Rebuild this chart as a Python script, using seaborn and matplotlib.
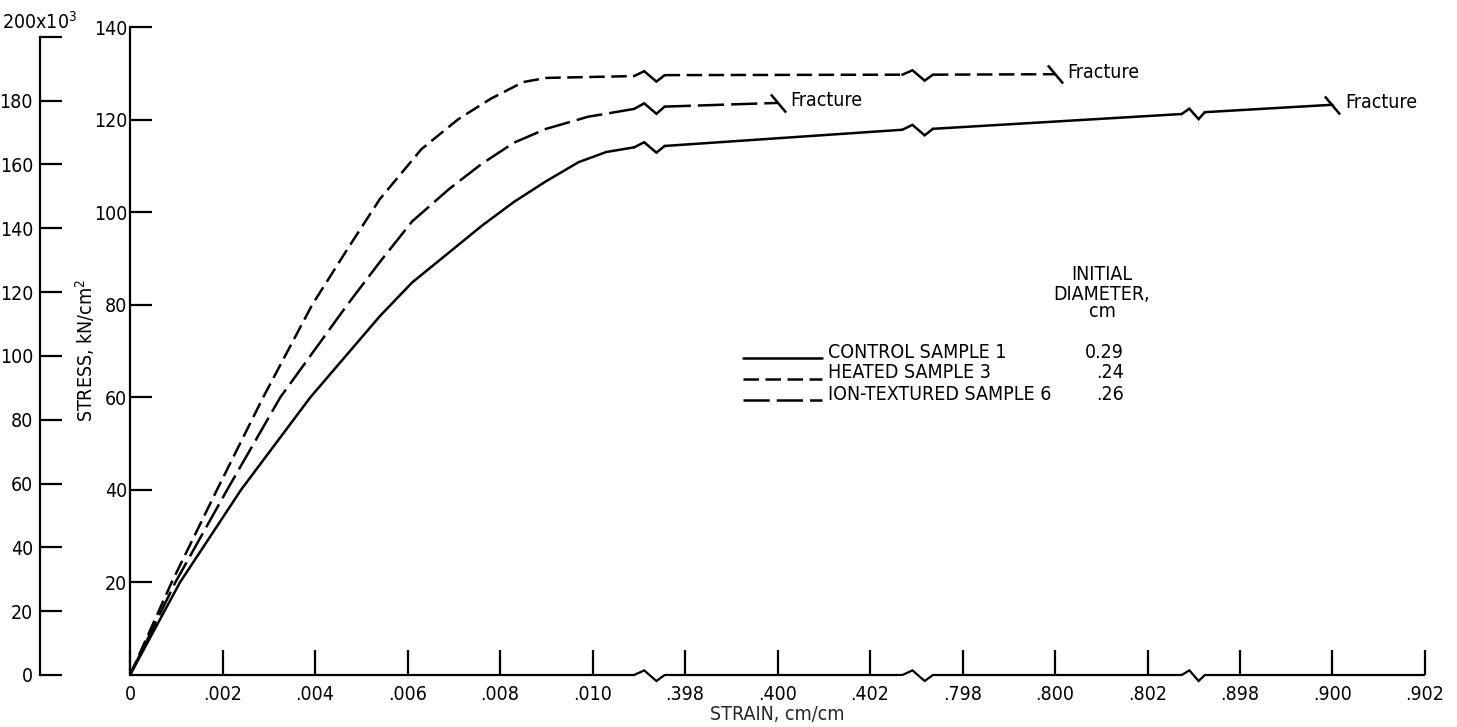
import numpy as np
import pandas as pd
import matplotlib
matplotlib.use("Agg")
import matplotlib.pyplot as plt
import seaborn as sns

# ---------------------------------------------------------------- data
# strain (cm/cm) and stress (kN/cm^2) for each specimen
control_strain = [0, .00108, .0024, .0039, .0054, .0061, .0069, .0076, .0083, .0090,
                  .0097, .0103, .0109, .39756, .4027, .79736, .80274, .89724, .900]
control_stress = [0, 20, 40, 60, 77.5, 84.8, 91.3, 97.0, 102.2, 106.7,
                  110.8, 113.0, 114.0, 114.3, 117.8, 118.0, 121.2, 121.6, 123.2]

heated_strain = [0, .0009, .00188, .00288, .00394, .0047, .0054, .0063, .0071,
                 .0078, .0085, .0090, .0109, .39756, .4027, .79736, .800]
heated_stress = [0, 20, 40, 60, 80, 92, 102.8, 113.6, 120.1,
                 124.5, 128.1, 129.0, 129.4, 129.6, 129.7, 129.7, 129.8]

ion_strain = [0, .00098, .0021, .00325, .0047, .0054, .0061, .0069, .0076,
              .0083, .0090, .0099, .0109, .39756, .400]
ion_stress = [0, 20, 40, 60, 80, 89.2, 98, 105, 110.4,
              115, 118, 120.6, 122.3, 122.8, 123.6]

sample_names = ["CONTROL SAMPLE 1", "HEATED SAMPLE 3", "ION-TEXTURED SAMPLE 6"]
diameters = ["0.29", ".24", ".26"]

x_ticks = [0, .002, .004, .006, .008, .010, .398, .400, .402,
           .798, .800, .802, .898, .900, .902]
x_tick_labels = ["0", ".002", ".004", ".006", ".008", ".010", ".398", ".400", ".402",
                 ".798", ".800", ".802", ".898", ".900", ".902"]
stress_ticks = [20, 40, 60, 80, 100, 120, 140]
psi_ticks = [0, 20, 40, 60, 80, 100, 120, 140, 160, 180, 200]
KN_CM2_TO_KSI = 1.45038

# broken strain axis: each piece runs at 0.002 per unit, the gaps are squeezed
gaps = [(0.0109, 0.39756), (0.4027, 0.79736), (0.80274, 0.89724)]
knot_s = [-1.0, 0.0, 0.0109, 0.39756, 0.4027, 0.79736, 0.80274, 0.89724, 0.904, 2.0]
knot_u = [-500.0, 0.0, 5.45, 5.78, 8.35, 8.68, 11.37, 11.62, 15.0, 563.0]


def fwd(s):
    return np.interp(s, knot_s, knot_u)


def inv(u):
    return np.interp(u, knot_u, knot_s)


# ---------------------------------------------------------------- style
sns.set_theme(style="white")
plt.rcParams["font.family"] = ["DejaVu Sans"]
plt.rcParams["font.stretch"] = "condensed"
plt.rcParams["mathtext.fontset"] = "dejavusans"
plt.rcParams["mathtext.default"] = "rm"
plt.rcParams["axes.edgecolor"] = "black"
plt.rcParams["text.color"] = "black"
plt.rcParams["xtick.color"] = "black"
plt.rcParams["ytick.color"] = "black"

LW = 1.8
AX_LW = 1.6
FS = 14
styles = {
    "CONTROL SAMPLE 1": "-",
    "HEATED SAMPLE 3": (0, (6.2, 2.6)),
    "ION-TEXTURED SAMPLE 6": (0, (10.5, 2.8)),
}

fig = plt.figure(figsize=(14.57, 7.27), dpi=100)
ax = fig.add_axes([130 / 1457, 52 / 727, 1295 / 1457, 648 / 727])
ax.set_xscale("function", functions=(fwd, inv))
ax.set_xlim(0, 0.902)
ax.set_ylim(0, 140)


def zigzag(ax, lo, hi, y0, y1, up, down, **kw):
    f = np.array([0.0, 0.33, 0.73, 1.0])
    xs = lo + f * (hi - lo)
    ym = 0.5 * (y0 + y1)
    ys = [y0, ym + up, ym - down, y1]
    ax.plot(xs, ys, color="black", lw=kw.pop("lw", LW), solid_joinstyle="miter",
            clip_on=False, **kw)


# ---------------------------------------------------------------- curves
samples = [
    (sample_names[0], control_strain, control_stress),
    (sample_names[1], heated_strain, heated_stress),
    (sample_names[2], ion_strain, ion_stress),
]
for name, strain, stress in samples:
    df = pd.DataFrame({"strain": strain, "stress": stress})
    # split into pieces at the axis breaks
    piece = np.zeros(len(df), dtype=int)
    for i in range(1, len(df)):
        piece[i] = piece[i - 1]
        for lo, hi in gaps:
            if df.strain[i - 1] <= lo + 1e-9 and df.strain[i] >= hi - 1e-9:
                piece[i] += 1
                zigzag(ax, df.strain[i - 1], df.strain[i],
                       df.stress[i - 1], df.stress[i], 0.95, 1.3)
    df["piece"] = piece
    for p, sub in df.groupby("piece"):
        sns.lineplot(data=sub, x="strain", y="stress", ax=ax, sort=False,
                     estimator=None, color="black", lw=LW,
                     linestyle=styles[name], legend=False)
    # fracture tick and label
    xe, ye = strain[-1], stress[-1]
    ax.plot([xe], [ye], marker=[(-0.42, 0.5), (0.42, -0.5)], ms=13,
            mec="black", mfc="none", mew=LW, clip_on=False)
    ax.annotate("Fracture", xy=(xe, ye), xytext=(9, 1.5),
                textcoords="offset points", ha="left", va="center", fontsize=FS)

# ---------------------------------------------------------------- axes
for side in ["top", "right", "bottom"]:
    ax.spines[side].set_visible(False)
ax.spines["left"].set_linewidth(AX_LW)

# broken strain axis line
pieces = [(0, gaps[0][0])] + [(gaps[i][1], gaps[i + 1][0]) for i in range(len(gaps) - 1)] \
         + [(gaps[-1][1], 0.902)]
for a, b in pieces:
    ax.plot([a, b], [0, 0], color="black", lw=AX_LW, clip_on=False,
            solid_capstyle="butt")
for lo, hi in gaps:
    zigzag(ax, lo, hi, 0, 0, 1.0, 1.3, lw=AX_LW)

ax.set_xticks(x_ticks)
ax.set_xticklabels(x_tick_labels)
ax.xaxis.set_minor_locator(matplotlib.ticker.NullLocator())
ax.tick_params(axis="x", bottom=True, direction="in", length=18, width=AX_LW,
               pad=7, labelsize=FS)
ax.set_yticks(stress_ticks)
ax.set_yticklabels([str(v) for v in stress_ticks])
ax.tick_params(axis="y", left=True, direction="in", length=16, width=AX_LW,
               pad=2, labelsize=FS)
ax.set_xlabel("STRAIN, cm/cm", fontsize=FS, labelpad=1)
ax.set_ylabel("")

# outer stress scale in thousands of psi
sec = ax.secondary_yaxis(-90 / 1295, functions=(lambda k: k * KN_CM2_TO_KSI,
                                                 lambda p: p / KN_CM2_TO_KSI))
sec.set_yticks(psi_ticks)
sec.set_yticklabels([str(v) for v in psi_ticks[:-1]] + [""])
sec.tick_params(axis="y", left=True, direction="in", length=16, width=AX_LW,
                pad=5, labelsize=FS)
sec.spines["left"].set_linewidth(AX_LW)
sec.spines["left"].set_bounds(0, 200)
fig.text(40 / 1457, 1 - 22 / 727, "200x10$^3$", ha="center", va="center", fontsize=FS)

fig.text(85 / 1457, 1 - 350 / 727, "STRESS, kN/cm$^2$", rotation=90,
         ha="center", va="center", fontsize=FS)

# ---------------------------------------------------------------- key
def ax_pt(px, py):
    return (px - 130) / 1295, (675 - py) / 648


rows_y = [352, 373, 394]
for name, ry, dia in zip(sample_names, rows_y, diameters):
    x0, y0 = ax_pt(743, ry + 6)
    x1, _ = ax_pt(822, ry + 6)
    ax.plot([x0, x1], [y0, y0], transform=ax.transAxes, color="black", lw=LW,
            linestyle=styles[name])
    tx, ty = ax_pt(828, ry)
    ax.text(tx, ty, name, transform=ax.transAxes, ha="left", va="center",
            fontsize=FS)
    dx, _ = ax_pt(1124, ry)
    ax.text(dx, ty, dia, transform=ax.transAxes, ha="right", va="center",
            fontsize=FS)

for txt, py in [("INITIAL", 275), ("DIAMETER,", 294), ("cm", 312)]:
    hx, hy = ax_pt(1102, py)
    ax.text(hx, hy, txt, transform=ax.transAxes, ha="center", va="center",
            fontsize=FS)

fig.savefig("out.png", dpi=100)
